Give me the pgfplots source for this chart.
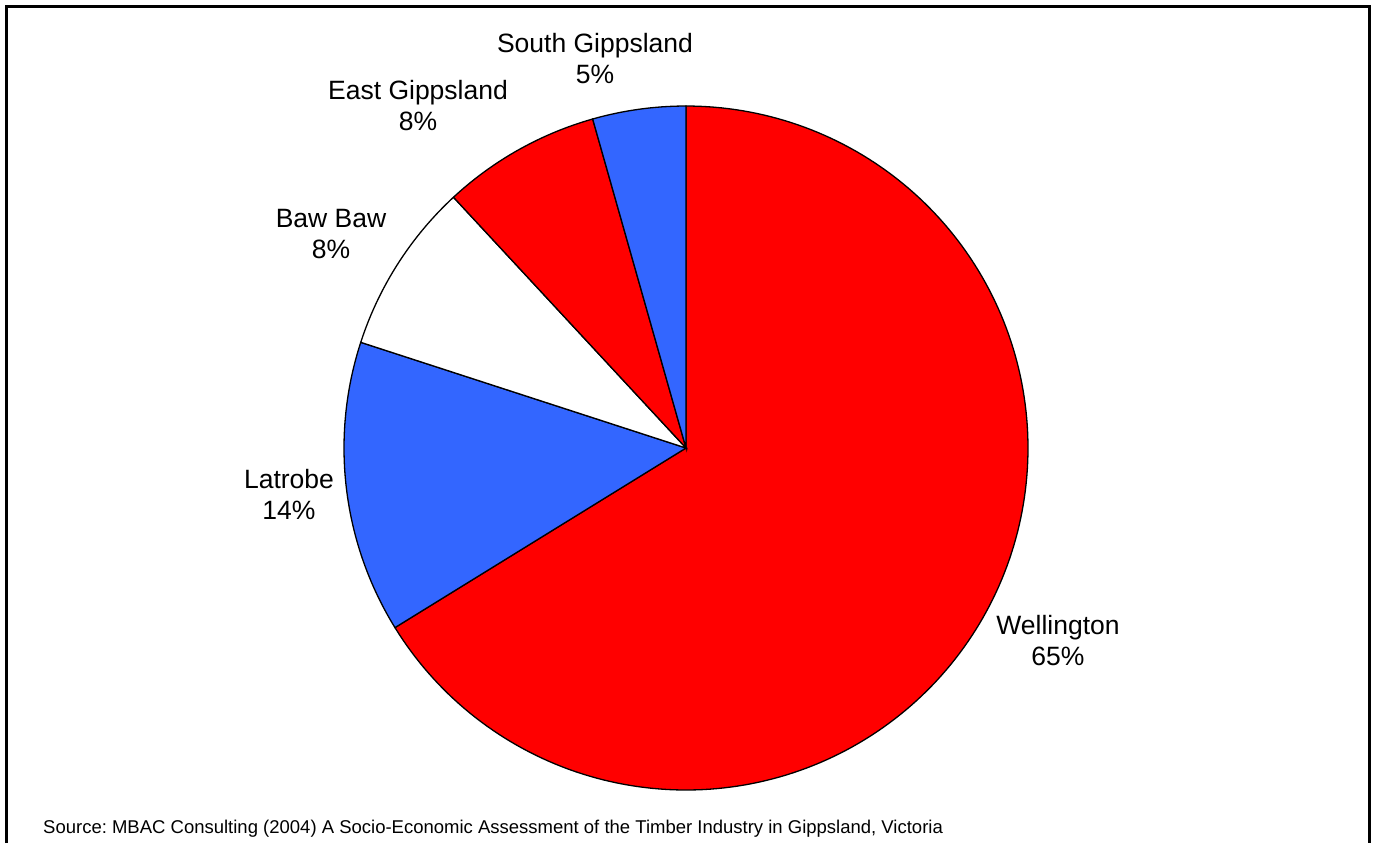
\documentclass[border=0pt]{standalone}
\usepackage{pgfplots}
\pgfplotsset{compat=1.18}
\usepackage{fontspec}
\setmainfont{Liberation Sans}
\definecolor{pieRed}{RGB}{255,0,0}
\definecolor{pieBlue}{RGB}{51,102,255}

% pie slice values (percent of total), clockwise from 12 o'clock
\newcommand\cum{0}
\newcommand\pieslice[2]{%
  \pgfmathsetmacro\aS{90-3.6*\cum}%
  \pgfmathsetmacro\aE{90-3.6*(\cum+#1)}%
  \edef\temp{\noexpand\addplot[draw=black, line width=1.3bp, fill=#2, domain=\aE:\aS, samples=200] ({686+342*cos(x)},{448-342*sin(x)}) -- (axis cs:686,448) -- cycle;}%
  \temp
  \pgfmathsetmacro\newcum{\cum+#1}%
  \xdef\cum{\newcum}%
}

\begin{document}
\frenchspacing
\begin{tikzpicture}
\begin{axis}[x=1bp, y=1bp, xmin=0, xmax=1374, ymin=0, ymax=843, y dir=reverse,
  hide axis, clip=false, scale only axis, anchor=north west, at={(0,0)}]
\path (axis cs:0,0) rectangle (axis cs:1374,843);
\pieslice{66.2}{pieRed}   % Wellington
\pieslice{13.8}{pieBlue}  % Latrobe
\pieslice{8.1}{white}     % Baw Baw
\pieslice{7.5}{pieRed}    % East Gippsland
\pieslice{4.4}{pieBlue}   % South Gippsland
\draw[line width=2.2bp] (axis cs:6.5,843) -- (axis cs:6.5,6.5) -- (axis cs:1369.5,6.5) -- (axis cs:1369.5,843);
\begin{scope}[every node/.style={align=center, anchor=north, inner sep=0pt, font=\fontsize{26.5bp}{31bp}\selectfont}]
\node at (axis cs:595,33) {South Gippsland\\5\%};
\node at (axis cs:418,80) {East Gippsland\\8\%};
\node at (axis cs:331,209) {Baw Baw\\8\%};
\node at (axis cs:289,469) {Latrobe\\14\%};
\node at (axis cs:1058,615) {Wellington\\65\%};
\end{scope}
\node[anchor=base west, inner sep=0pt, font=\fontsize{18.5bp}{21bp}\selectfont] at (axis cs:43,833) {Source: MBAC Consulting (2004) A Socio-Economic Assessment of the Timber Industry in Gippsland, Victoria};
\end{axis}
\end{tikzpicture}
\end{document}
